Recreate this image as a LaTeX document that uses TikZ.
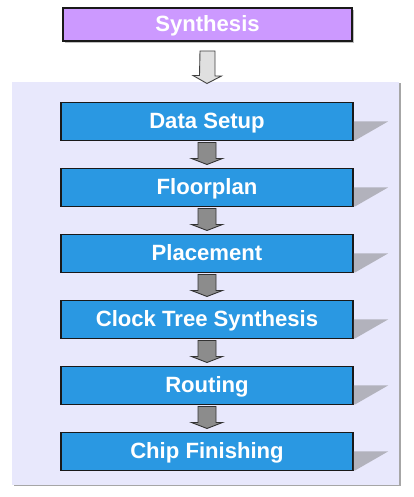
\documentclass[tikz,border=0pt]{standalone}
\usepackage{fontspec}
\setmainfont{Liberation Sans}
\usetikzlibrary{positioning, shadows}
\definecolor{stepblue}{HTML}{2A98E2}
\definecolor{synpurple}{HTML}{CC99FF}
\definecolor{panelfill}{HTML}{E8E8FC}
\definecolor{shadegray}{HTML}{B2B2BC}
\tikzstyle{stepbox} = [rectangle, minimum width=292pt, minimum height=38pt, inner sep=0, outer sep=0, text centered, text height=17.25pt, text depth=2.25pt, draw=black!90, line width=1.3pt, fill=stepblue, text=white, font=\fontsize{22.1}{24}\selectfont\bfseries]
\tikzstyle{synbox} = [stepbox, minimum width=289pt, minimum height=33pt, fill=synpurple, drop shadow={shadow xshift=2pt, shadow yshift=-2pt, fill=black!25, opacity=1}]
\tikzstyle{panel} = [rectangle, minimum width=387pt, minimum height=403pt, inner sep=0, outer sep=0, fill=panelfill, drop shadow={shadow xshift=1.5pt, shadow yshift=-1.5pt, fill=black!35, opacity=1}]
\tikzstyle{grayarrow} = [draw=black!80, line width=0.9pt, fill=black!45, line join=miter]
\tikzstyle{hollowarrow} = [draw=black!75, line width=0.9pt, fill=black!12, line join=miter]
\tikzstyle{shade} = [fill=shadegray]

\begin{document}
\begin{tikzpicture}[x=1pt,y=1pt]
\useasboundingbox (0,0) rectangle (413,497);

\node[panel] (panel) at (205.5,213.5) {};
\node[synbox] (syn) at (207.5,472.5) {Synthesis};

\node[stepbox] (setup) at (207,375.5) {Data Setup};
\node[stepbox, below=28pt of setup] (floor) {Floorplan};
\node[stepbox, below=28pt of floor] (place) {Placement};
\node[stepbox, below=28pt of place] (cts) {Clock Tree Synthesis};
\node[stepbox, below=28pt of cts] (route) {Routing};
\node[stepbox, below=28pt of route] (finish) {Chip Finishing};

% shadows to the right of each step
\foreach \s in {setup,floor,place,cts,route,finish}{
	\fill[shade] ([xshift=0.8pt]\s.east) -- ([xshift=35pt]\s.east) -- ([xshift=2pt]\s.south east) -- ([xshift=0.8pt]\s.south east) -- cycle;
}

% synthesis into the flow
\draw[hollowarrow] ([xshift=-7.5pt,yshift=-10pt]syn.south) -- ++(15,0) -- ++(0,-25) -- ++(6.5,0) -- ([yshift=19pt]setup.north) -- ++(-14,8) -- ++(6.5,0) -- cycle;

% arrows between the steps
\foreach \a/\b in {setup/floor,floor/place,place/cts,cts/route,route/finish}{
	\draw[grayarrow] ([xshift=-9pt,yshift=-2pt]\a.south) -- ++(18,0) -- ++(0,-16) -- ++(6.5,0) -- ([yshift=4pt]\b.north) -- ++(-15.5,6) -- ++(6.5,0) -- cycle;
}
\end{tikzpicture}
\end{document}
